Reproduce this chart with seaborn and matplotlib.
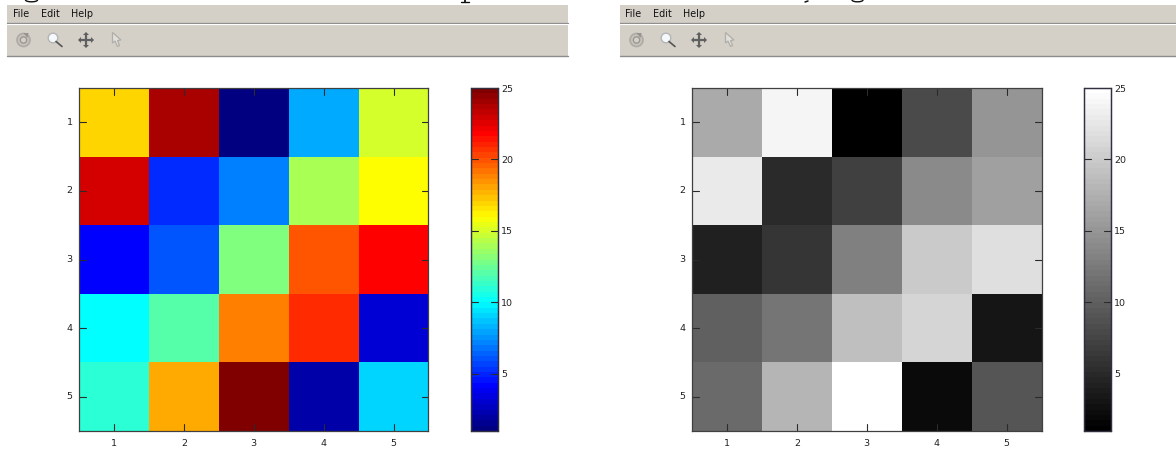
import numpy as np
import pandas as pd
import matplotlib
matplotlib.use("Agg")
import matplotlib.pyplot as plt
from matplotlib.colors import LinearSegmentedColormap
from matplotlib.patches import Rectangle, Circle, Polygon, Arc
import seaborn as sns

W, H = 1176, 449
values_row1 = [17, 24, 1, 8, 15]
values_row2 = [23, 5, 7, 14, 16]
values_row3 = [4, 6, 13, 20, 22]
values_row4 = [10, 12, 19, 21, 3]
values_row5 = [11, 18, 25, 2, 9]
labels = [1, 2, 3, 4, 5]
cbar_ticks = [5, 10, 15, 20, 25]
menu_items = ["File", "Edit", "Help"]

frame = pd.DataFrame([values_row1, values_row2, values_row3, values_row4, values_row5],
                     index=labels, columns=labels)

sns.set_theme(style="white")
plt.rcParams['font.family'] = ['DejaVu Sans']
fig = plt.figure(figsize=(W / 100, H / 100), dpi=100, facecolor="white")


def box(x0, y0, x1, y1):
    return [x0 / W, 1 - y1 / H, (x1 - x0) / W, (y1 - y0) / H]


chrome = fig.add_axes([0, 0, 1, 1], zorder=0)
chrome.set_xlim(0, W)
chrome.set_ylim(H, 0)
chrome.axis("off")


def toolbar(x0, x1):
    grey = "#d4d0c8"
    edge = "#808080"
    chrome.add_patch(Rectangle((x0, 5), x1 - x0, 51, fc=grey, ec="none"))
    chrome.plot([x0, x1], [22.5, 22.5], color=edge, lw=0.9)
    chrome.plot([x0, x1], [23.6, 23.6], color="white", lw=0.9)
    chrome.plot([x0, x1], [56, 56], color="#8c8c8c", lw=1.0)
    for text, dx in zip(menu_items, [5.5, 33.5, 63.5]):
        chrome.text(x0 + dx, 14, text, fontsize=6.9, color="#111111", va="center", ha="left",
                    family="DejaVu Sans")
    # rotate icon
    cx = x0 + 16.5
    chrome.add_patch(Circle((cx, 40), 6.4, fc="#c9c6bf", ec="#b0ada7", lw=1.4))
    chrome.add_patch(Circle((cx, 40), 3.2, fc=grey, ec="#9a9791", lw=1.0))
    chrome.add_patch(Polygon([(cx, 33), (cx + 5, 33), (cx + 4, 38)], fc="#96938d", ec="none"))
    # zoom icon
    mx = x0 + 46
    chrome.plot([mx + 3, mx + 9], [41.5, 46.5], color="#555555", lw=1.2, solid_capstyle="round")
    chrome.add_patch(Circle((mx, 38), 4.8, fc="#f6f9fc", ec="#b5b5b5", lw=1.0))
    # pan icon
    px = x0 + 79
    py = 40
    chrome.plot([px - 6, px + 6], [py, py], color="#606060", lw=1.6)
    chrome.plot([px, px], [py - 6, py + 6], color="#606060", lw=1.6)
    for pts in ([(px - 8, py), (px - 5, py - 3), (px - 5, py + 3)],
                [(px + 8, py), (px + 5, py - 3), (px + 5, py + 3)],
                [(px, py - 8), (px - 3, py - 5), (px + 3, py - 5)],
                [(px, py + 8), (px - 3, py + 5), (px + 3, py + 5)]):
        chrome.add_patch(Polygon(pts, fc="#606060", ec="none"))
    # arrow icon
    ax0 = x0 + 105.5
    chrome.add_patch(Polygon([(ax0, 32.5), (ax0, 43), (ax0 + 2.5, 41), (ax0 + 5, 46.5),
                              (ax0 + 7, 45.5), (ax0 + 5, 40.5), (ax0 + 8.5, 40)],
                             fc="#e2e0da", ec="#b0aea8", lw=0.9))


toolbar(7, 568)
toolbar(620, 1176)

# remains of the caption line cropped at the top edge
for cx, w, h in [(31.5, 12, 3.6), (857.5, 11, 3.6)]:
    chrome.add_patch(Arc((cx, 0), w, h, theta1=0, theta2=180, color="#111111", lw=1.0))
chrome.plot([461, 469], [1.8, 1.8], color="#111111", lw=1.0)
chrome.plot([465, 465], [0, 2], color="#111111", lw=1.3)
chrome.plot([805, 808], [2, 1], color="#111111", lw=1.1)


def panel(x0, cb0, cell_cmap, bar_cmap):
    ax = fig.add_axes(box(x0, 88, x0 + 349.5, 431), zorder=2)
    cax = fig.add_axes(box(cb0, 88, cb0 + 27, 431), zorder=2)
    sns.heatmap(frame, ax=ax, cbar_ax=cax, cmap=cell_cmap, vmin=1, vmax=25, square=False,
                cbar_kws={"ticks": cbar_ticks})
    ax.collections[0].colorbar.solids.set_cmap(bar_cmap)
    ax.set_xticks(np.arange(5) + 0.5, labels)
    ax.set_yticks(np.arange(5) + 0.5, labels)
    ax.tick_params(axis="x", length=0, labelsize=6.8, colors="#222222", labelrotation=0, pad=6)
    ax.tick_params(axis="y", length=0, labelsize=6.8, colors="#222222", labelrotation=0, pad=4.5)
    for s in ax.spines.values():
        s.set_visible(True)
        s.set_color("#404040")
        s.set_linewidth(0.9)
    ink = "#2b2b2b"
    tick = 0.1
    for t in np.arange(5) + 0.5:
        ax.plot([t, t], [0, tick], color=ink, lw=0.8)
        ax.plot([t, t], [5, 5 - tick], color=ink, lw=0.8)
        ax.plot([0, tick], [t, t], color=ink, lw=0.8)
        ax.plot([5, 5 - tick], [t, t], color=ink, lw=0.8)
    ax.set_xlim(0, 5)
    ax.set_ylim(5, 0)
    cax.tick_params(axis="y", length=0, labelsize=6.8, colors="#222222", pad=2.2)
    for s in cax.spines.values():
        s.set_visible(True)
        s.set_color("#303040")
        s.set_linewidth(0.9)
    for t in cbar_ticks[:-1]:
        cax.plot([0, 0.25], [t, t], color=ink, lw=0.8, transform=cax.get_yaxis_transform())
        cax.plot([0.75, 1], [t, t], color=ink, lw=0.8, transform=cax.get_yaxis_transform())


jet_segments = {
    "red": [(0, 0, 0), (3 / 8, 0, 0), (5 / 8, 1, 1), (7 / 8, 1, 1), (1, 0.5, 0.5)],
    "green": [(0, 0, 0), (1 / 8, 0, 0), (3 / 8, 1, 1), (5 / 8, 1, 1), (7 / 8, 0, 0), (1, 0, 0)],
    "blue": [(0, 0.5, 0.5), (1 / 8, 1, 1), (3 / 8, 1, 1), (5 / 8, 0, 0), (1, 0, 0)],
}
jet_fine = LinearSegmentedColormap("matlab_jet", jet_segments, N=1024)
jet_bands = LinearSegmentedColormap("matlab_jet64", jet_segments, N=64)
gray_fine = plt.get_cmap("gray", 1024)
gray_bands = plt.get_cmap("gray", 64)

panel(79, 471, jet_fine, jet_bands)
panel(692, 1084, gray_fine, gray_bands)

fig.savefig("out.png", dpi=100, facecolor="white")
